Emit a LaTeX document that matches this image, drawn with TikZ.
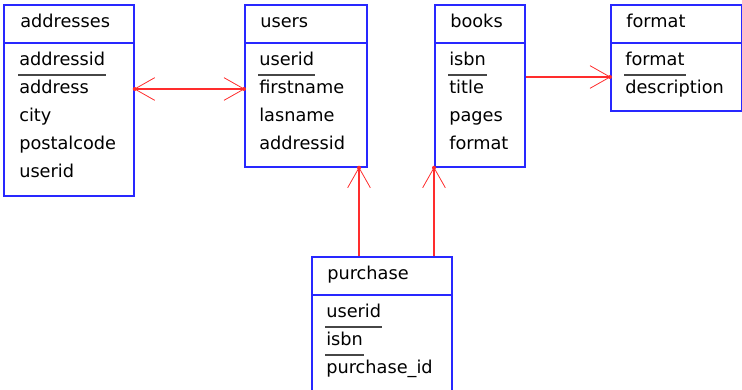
\documentclass[tikz,border=0pt]{standalone}
\usepackage{fontspec}
\setmainfont{DejaVu Sans}
\usetikzlibrary{arrows.meta}
\definecolor{tblblue}{RGB}{40,40,255}
\definecolor{relred}{RGB}{255,45,45}
\definecolor{keygray}{RGB}{70,70,70}

% open fork tip made of two straight lines
\pgfdeclarearrow{
  name = Fork,
  parameters = {\the\pgfarrowlength,\the\pgfarrowwidth},
  setup code = {
    \pgfarrowssettipend{0pt}
    \pgfarrowssetlineend{0pt}
    \pgfarrowssetbackend{-\pgfarrowlength}
    \pgfarrowshullpoint{0pt}{0pt}
    \pgfarrowshullpoint{-\pgfarrowlength}{.5\pgfarrowwidth}
    \pgfarrowshullpoint{-\pgfarrowlength}{-.5\pgfarrowwidth}
    \pgfarrowssavethe\pgfarrowlength
    \pgfarrowssavethe\pgfarrowwidth
  },
  drawing code = {
    \pgfsetlinewidth{0.6pt}
    \pgfsetdash{}{0pt}
    \pgfsetroundjoin
    \pgfpathmoveto{\pgfqpoint{-\pgfarrowlength}{.5\pgfarrowwidth}}
    \pgfpathlineto{\pgfpointorigin}
    \pgfpathlineto{\pgfqpoint{-\pgfarrowlength}{-.5\pgfarrowwidth}}
    \pgfusepathqstroke
  },
  defaults = {length=15pt, width=17pt}
}

\begin{document}
\begin{tikzpicture}[x=0.75pt,y=-0.75pt,
        entity/.style={rectangle, draw=tblblue, line width=1.3pt, fill=white, inner sep=0pt, anchor=north west},
        headline/.style={draw=tblblue, line width=1.3pt},
        field/.style={anchor=base west, inner sep=0pt, font=\fontsize{13.3}{16}\selectfont},
        keyline/.style={draw=keygray, line width=1.2pt},
        rel/.style={draw=relred, line width=1.1pt, -Fork},
        ]

        \useasboundingbox (0,0) rectangle (742,389);

        % Tables
        \node[entity, minimum width=97.5pt, minimum height=143.25pt] (adr) at (3,4) {};
        \node[entity, minimum width=91.5pt, minimum height=121.5pt] (usr) at (244,4) {};
        \node[entity, minimum width=67.5pt, minimum height=121.5pt] (bk) at (434,4) {};
        \node[entity, minimum width=98.25pt, minimum height=79.5pt] (fmt) at (610,4) {};
        \node[entity, minimum width=105pt, minimum height=105pt] (pur) at (311,256) {};

        % Header lines
        \draw[headline] ([shift={(0,39)}]adr.north west) -- ([shift={(0,39)}]adr.north east);
        \draw[headline] ([shift={(0,39)}]usr.north west) -- ([shift={(0,39)}]usr.north east);
        \draw[headline] ([shift={(0,39)}]bk.north west) -- ([shift={(0,39)}]bk.north east);
        \draw[headline] ([shift={(0,39)}]fmt.north west) -- ([shift={(0,39)}]fmt.north east);
        \draw[headline] ([shift={(0,39)}]pur.north west) -- ([shift={(0,39)}]pur.north east);

        % addresses
        \node[field] (adr0) at (20,27) {addresses};
        \node[field] (adr1) at (19,65) {addressid};
        \node[field] (adr2) at (19,93) {address};
        \node[field] (adr3) at (19,121) {city};
        \node[field] (adr4) at (19,149) {postalcode};
        \node[field] (adr5) at (19,177) {userid};

        % users
        \node[field] (usr0) at (260,27) {users};
        \node[field] (usr1) at (259,65) {userid};
        \node[field] (usr2) at (259,93) {firstname};
        \node[field] (usr3) at (259,121) {lasname};
        \node[field] (usr4) at (259,149) {addressid};

        % books
        \node[field] (bk0) at (450,27) {books};
        \node[field] (bk1) at (449,65) {isbn};
        \node[field] (bk2) at (449,93) {title};
        \node[field] (bk3) at (449,121) {pages};
        \node[field] (bk4) at (449,149) {format};

        % format
        \node[field] (fmt0) at (626,27) {format};
        \node[field] (fmt1) at (625,65) {format};
        \node[field] (fmt2) at (625,93) {description};

        % purchase
        \node[field] (pur0) at (327,279) {purchase};
        \node[field] (pur1) at (326,317) {userid};
        \node[field] (pur2) at (326,345) {isbn};
        \node[field] (pur3) at (326,373) {purchase\_id};

        % Keys
        \draw[keyline] ([shift={(-1,10)}]adr1.base west) -- ([shift={(1,10)}]adr1.base east);
        \draw[keyline] ([shift={(-1,10)}]usr1.base west) -- ([shift={(1,10)}]usr1.base east);
        \draw[keyline] ([shift={(-1,10)}]bk1.base west) -- ([shift={(1,10)}]bk1.base east);
        \draw[keyline] ([shift={(-1,10)}]fmt1.base west) -- ([shift={(1,10)}]fmt1.base east);
        \draw[keyline] ([shift={(-1,10)}]pur1.base west) -- ([shift={(1,10)}]pur1.base east);
        \draw[keyline] ([shift={(-1,10)}]pur2.base west) -- ([shift={(1,10)}]pur2.base east);

        % Relations
        \coordinate (ay) at (0,89);
        \coordinate (by) at (0,77);
        \coordinate (ux) at (359,0);
        \coordinate (bx) at (434,0);

        \draw[rel, Fork-Fork] (adr.east |- ay) -- (usr.west |- ay);
        \draw[rel] (bk.east |- by) -- (fmt.west |- by);
        \draw[rel] (pur.north -| ux) -- (usr.south -| ux);
        \draw[rel] (pur.north -| bx) -- (bk.south -| bx);

        \fill[relred] (adr.east |- ay) circle (1.5pt);
        \fill[relred] (usr.west |- ay) circle (1.5pt);
        \fill[relred] (fmt.west |- by) circle (1.5pt);
        \fill[relred] (usr.south -| ux) circle (1.5pt);
        \fill[relred] (bk.south -| bx) circle (1.5pt);

    \end{tikzpicture}
\end{document}
